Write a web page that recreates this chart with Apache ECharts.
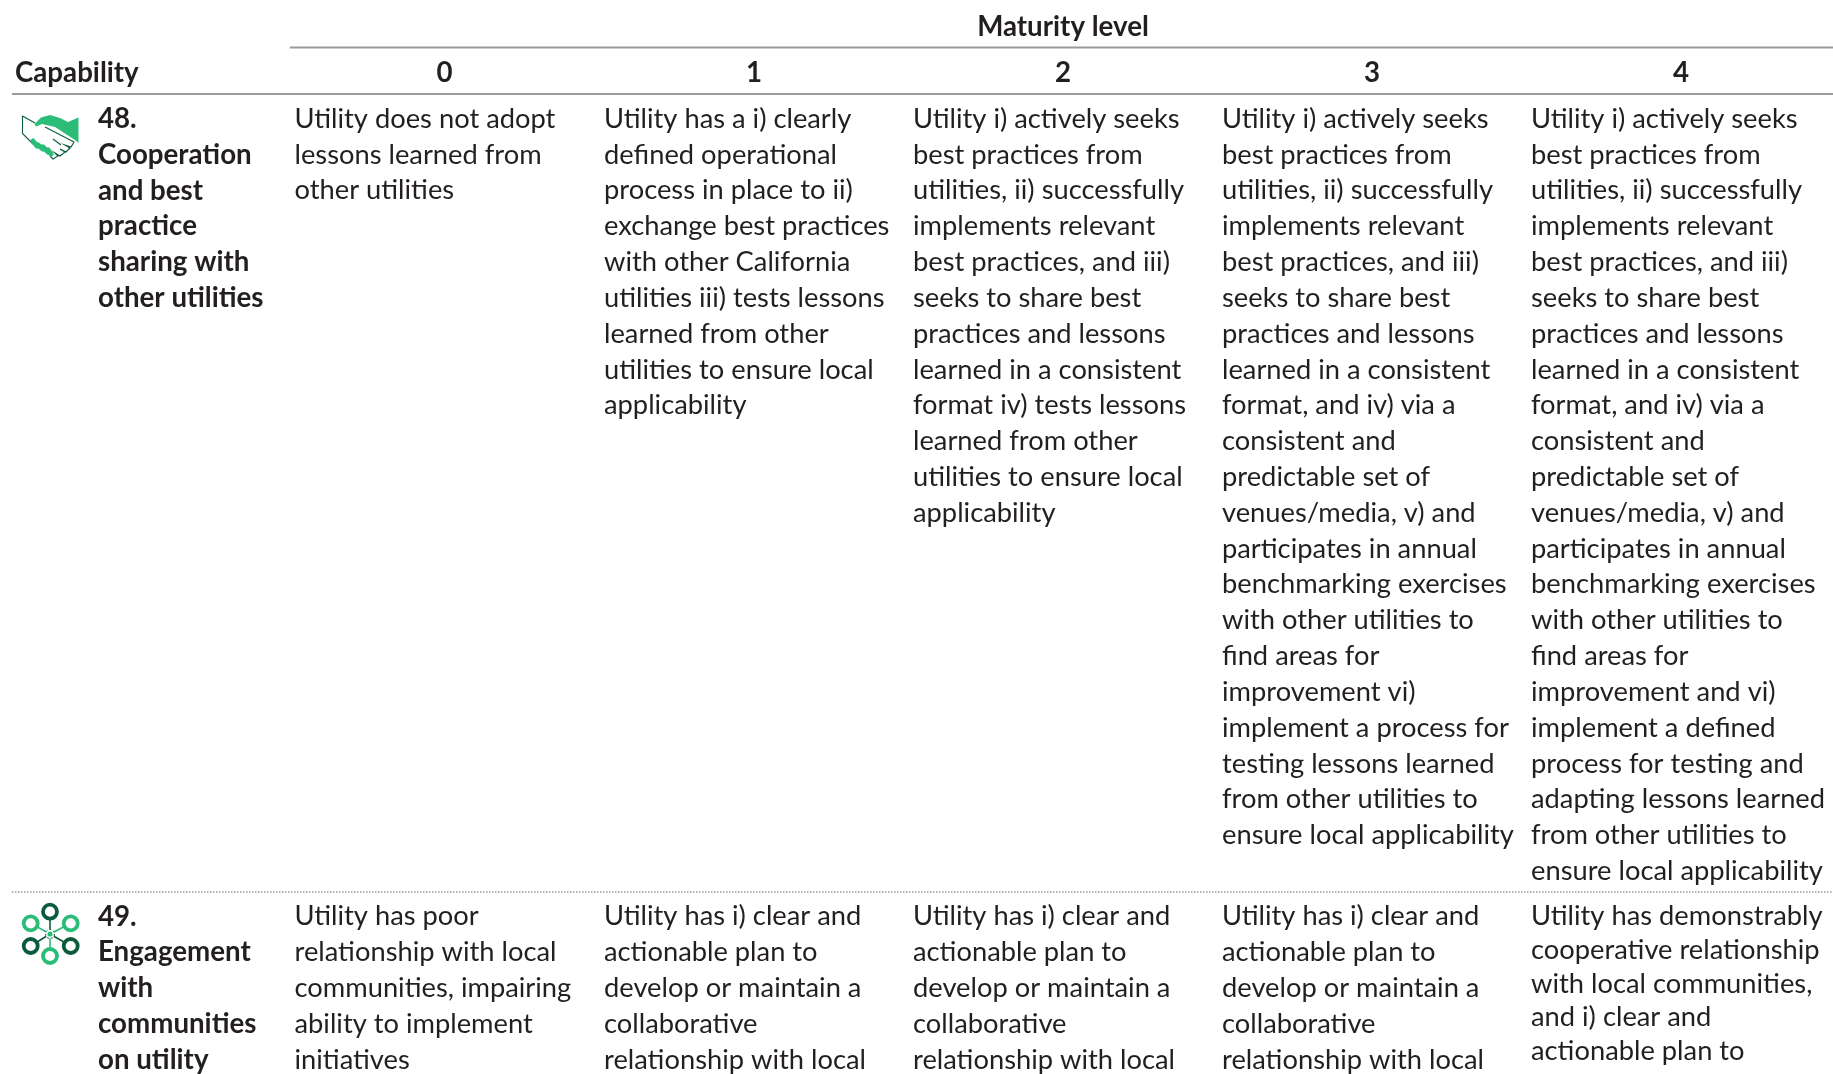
<!DOCTYPE html>
<html><head><meta charset="utf-8">
<style>html,body{margin:0;padding:0;background:#fff}#c{width:1833px;height:1074px;filter:blur(0.4px)}</style>
<script src="https://cdn.jsdelivr.net/npm/echarts@6/dist/echarts.min.js"></script>
</head><body><div id="c"></div>
<script>
const spanner = "Maturity level";
const capabilityHeader = "Capability";
const levels = ["0","1","2","3","4"];

const capability48 = ["48.","Cooperation","and best","practice","sharing with","other utilities"];
const capability49 = ["49.","Engagement","with","communities","on utility"];

const row48Level0 = ["Utility does not adopt","lessons learned from","other utilities"];
const row48Level1 = ["Utility has a i) clearly","defined operational","process in place to ii)","exchange best practices","with other California","utilities iii) tests lessons","learned from other","utilities to ensure local","applicability"];
const row48Level2 = ["Utility i) actively seeks","best practices from","utilities, ii) successfully","implements relevant","best practices, and iii)","seeks to share best","practices and lessons","learned in a consistent","format iv) tests lessons","learned from other","utilities to ensure local","applicability"];
const row48Level3 = ["Utility i) actively seeks","best practices from","utilities, ii) successfully","implements relevant","best practices, and iii)","seeks to share best","practices and lessons","learned in a consistent","format, and iv) via a","consistent and","predictable set of","venues/media, v) and","participates in annual","benchmarking exercises","with other utilities to","find areas for","improvement vi)","implement a process for","testing lessons learned","from other utilities to","ensure local applicability"];
const row48Level4 = ["Utility i) actively seeks","best practices from","utilities, ii) successfully","implements relevant","best practices, and iii)","seeks to share best","practices and lessons","learned in a consistent","format, and iv) via a","consistent and","predictable set of","venues/media, v) and","participates in annual","benchmarking exercises","with other utilities to","find areas for","improvement and vi)","implement a defined","process for testing and","adapting lessons learned","from other utilities to","ensure local applicability"];

const row49Level0 = ["Utility has poor","relationship with local","communities, impairing","ability to implement","initiatives"];
const row49Level1 = ["Utility has i) clear and","actionable plan to","develop or maintain a","collaborative","relationship with local"];
const row49Level2 = row49Level1;
const row49Level3 = row49Level1;
const row49Level4 = ["Utility has demonstrably","cooperative relationship","with local communities,","and i) clear and","actionable plan to"];

// layout (page pixels; both axes below map 1:1 onto the page)
const L = {
  capX: 98, colX: [294.5,604,913,1222,1531], colC: [444.5,754,1063,1372,1681],
  row48Y: 119, row49Y: 916.6, pitch: 35.82, pitchTight: 33.6,
  font: 27.3, fontBold: 27.7, ink: '#231f20', family: 'Lato, Carlito, sans-serif'
};

const texts = [];
function add(x,y,s,bold,align){ texts.push({value:[x,y],s,bold,align}); }
add(L.colC[2],27,spanner,true,'center');
add(15,73.2,capabilityHeader,true,'left');
levels.forEach((t,i)=>add(L.colC[i],73.2,t,true,'center'));
capability48.forEach((s,i)=>add(L.capX,L.row48Y+i*L.pitch,s,true,'left'));
capability49.forEach((s,i)=>add(L.capX,L.row49Y+i*L.pitch,s,true,'left'));
[row48Level0,row48Level1,row48Level2,row48Level3,row48Level4].forEach((c,k)=>c.forEach((s,i)=>add(L.colX[k],L.row48Y+i*L.pitch,s,false,'left')));
[row49Level0,row49Level1,row49Level2,row49Level3,row49Level4].forEach((c,k)=>c.forEach((s,i)=>{
  const p = k===4?L.pitchTight:L.pitch; add(L.colX[k],L.row49Y+i*p,s,false,'left');}));

const rules = [
  {value:[290,47.5,1833],color:'#9a9a9a',w:2,dash:null},
  {value:[12,94,1833],color:'#9a9a9a',w:2,dash:null},
  {value:[12,892,1833],color:'#9a9a9a',w:1.5,dash:[1.5,1.5]}
];

const G='#2bbd78', D='#0b5c3c';
function handshake(){
  const P=(pts,o)=>({type:'polyline',shape:{points:pts},style:Object.assign({fill:null,stroke:D,lineWidth:1.1},o||{})});
  const fingers=[[33,41,37,46],[38,45,43,49],[43,47,48,52],[48,50,51,54]].map(a=>({type:'line',shape:{x1:a[0],y1:a[1],x2:a[2],y2:a[3]},style:{stroke:G,lineWidth:5,lineCap:'round'}}));
  return {type:'group',x:0,y:100,silent:true,children:[
    P([[22.5,16],[35,23]]),
    P([[22.5,16],[22.5,33.5],[33,44]]),
    P([[45,27],[74,42],[71,47],[65,45],[70,48],[66,52],[60,49],[65,52],[60,56],[55,53],[58,56],[53,59],[50,56]]),
    P([[53,39],[61,45]]),
    {type:'polygon',shape:{points:[[34.5,24],[41,17.5],[50,15],[60,18],[68,22],[78.5,17.5],[78.5,43],[75,40],[55,27],[42,24],[36,26.5]]},style:{fill:G}},
    ...fingers
  ]};
}
function network(){
  const c=[50,49], ring=(x,y,col)=>[
    {type:'circle',shape:{cx:x,cy:y,r:7},style:{fill:'#fff',stroke:col,lineWidth:3.8}},
    {type:'circle',shape:{cx:x,cy:y-0.5,r:3.4},style:{fill:'#fff'}}];
  const nodes=[[50,26.7,D],[30.7,38.3,G],[70.7,38.3,G],[30.7,61,D],[70.7,61,D],[50,71,G]];
  const ch=[];
  nodes.forEach(n=>ch.push({type:'line',shape:{x1:c[0],y1:c[1],x2:n[0],y2:n[1]},style:{stroke:n[2],lineWidth:1.6}}));
  nodes.forEach(n=>ch.push(...ring(n[0],n[1],n[2])));
  ch.push({type:'circle',shape:{cx:c[0],cy:c[1],r:4.5},style:{fill:'#fff',stroke:D,lineWidth:1,lineDash:[2,2]}});
  ch.push({type:'circle',shape:{cx:c[0],cy:c[1],r:2.6},style:{fill:G}});
  return {type:'group',x:0,y:885,silent:true,children:ch};
}

const chart = echarts.init(document.getElementById('c'),null,{renderer:'canvas'});
chart.setOption({
  animation:false,
  backgroundColor:'#fff',
  grid:{left:0,right:0,top:0,bottom:0},
  xAxis:{type:'value',min:0,max:1833,show:false},
  yAxis:{type:'value',min:0,max:1074,inverse:true,show:false},
  graphic:[handshake(),network()],
  series:[
    {type:'custom',silent:true,clip:false,data:rules,encode:{x:0,y:1},
     renderItem(p,api){
       const r=rules[p.dataIndex];
       const a=api.coord([r.value[0],r.value[1]]), b=api.coord([r.value[2],r.value[1]]);
       return {type:'line',shape:{x1:a[0],y1:a[1],x2:b[0],y2:b[1]},style:{stroke:r.color,lineWidth:r.w,lineDash:r.dash}};
     }},
    {type:'custom',silent:true,clip:false,data:texts,encode:{x:0,y:1},
     renderItem(p,api){
       const t=texts[p.dataIndex];
       const a=api.coord(t.value);
       return {type:'text',x:a[0],y:a[1],style:{text:t.s,fill:L.ink,font:(t.bold?'bold '+L.fontBold:L.font)+'px '+L.family,textAlign:t.align,textVerticalAlign:'middle'}};
     }}
  ]
});
</script></body></html>
